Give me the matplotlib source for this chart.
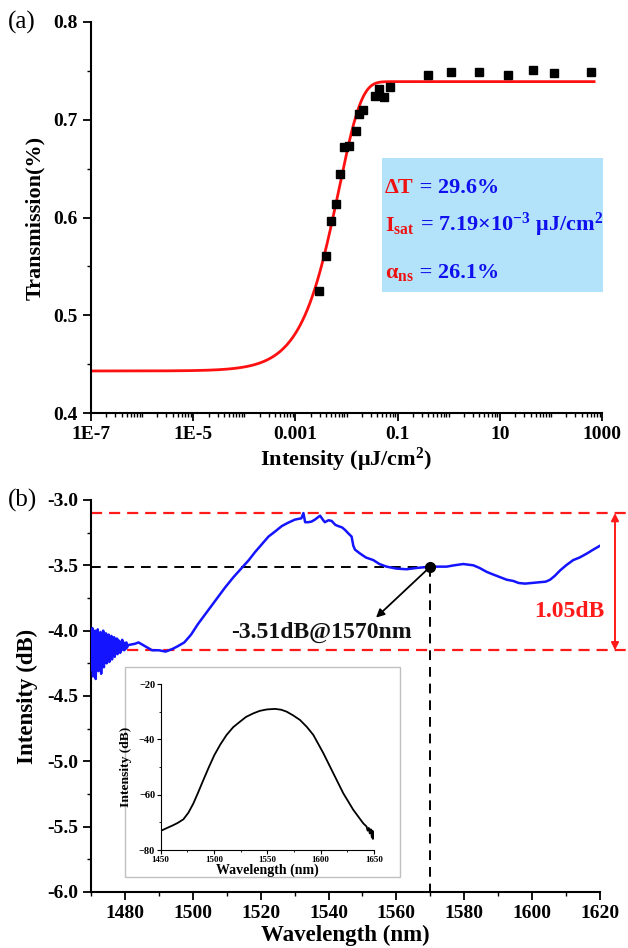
import numpy as np
import matplotlib
matplotlib.use("Agg")
import matplotlib.pyplot as plt
from matplotlib.patches import Rectangle
from matplotlib.ticker import MultipleLocator, FixedLocator, NullFormatter

plt.rcParams['font.family'] = ['Liberation Serif', 'DejaVu Serif']
plt.rcParams['font.weight'] = 'bold'
plt.rcParams['axes.labelweight'] = 'bold'
plt.rcParams['mathtext.fontset'] = 'custom'
plt.rcParams['mathtext.rm'] = 'Liberation Serif:bold'
plt.rcParams['mathtext.it'] = 'Liberation Serif:bold'
plt.rcParams['mathtext.bf'] = 'Liberation Serif:bold'
plt.rcParams['mathtext.default'] = 'rm'
plt.rcParams['lines.scale_dashes'] = False

# ---------------- data: panel (a) ----------------
intensity = [0.0029, 0.0040, 0.0049, 0.0062, 0.0076, 0.0091, 0.0114, 0.0154,
             0.0179, 0.0210, 0.036, 0.044, 0.053, 0.072, 0.39, 1.1, 3.9, 14.7,
             45, 113, 600]
transmission = [0.525, 0.561, 0.596, 0.614, 0.645, 0.672, 0.673, 0.689,
                0.706, 0.710, 0.724, 0.731, 0.723, 0.733, 0.746, 0.749, 0.749,
                0.746, 0.751, 0.748, 0.749]
delta_T = 0.296
I_sat = 7.19e-3
alpha_ns = 0.261
fit_I_min, fit_I_max = 1e-7, 7e2
x_ticks_a = [1e-7, 1e-5, 1e-3, 1e-1, 1e1, 1e3]
x_ticklabels_a = ['1E-7', '1E-5', '0.001', '0.1', '10', '1000']

# ---------------- data: panel (b) ----------------
noise_wl_start, noise_wl_step = 1470.0, 0.2
noise_vals = [-4.02, -4.30, -3.98, -4.35, -4.05, -4.26, -4.00, -4.37, -4.08, -4.24,
              -3.99, -4.31, -4.04, -4.27, -4.01, -4.33, -4.03, -4.22, -4.00, -4.28,
              -4.05, -4.20, -4.02, -4.25, -4.06, -4.21, -4.03, -4.24, -4.05, -4.19,
              -4.04, -4.22, -4.07, -4.18, -4.05, -4.20, -4.08, -4.17, -4.06, -4.18,
              -4.07, -4.16, -4.08, -4.17, -4.09, -4.15, -4.07, -4.14, -4.09, -4.15,
              -4.10, -4.14, -4.09, -4.13, -4.11]
spec_wl = [1481, 1483, 1484, 1486, 1488, 1490, 1492, 1494, 1495.5, 1497.5, 1499.5,
           1501.5, 1503.5, 1505.5, 1507.5, 1509.5, 1512, 1514.4, 1516.5, 1518.3,
           1520.3, 1522.3, 1524.3, 1526.2, 1528, 1530.1, 1532.0, 1532.6, 1533.1,
           1534, 1535, 1536, 1537.5, 1538.3, 1538.9, 1540, 1540.9, 1542, 1542.9,
           1544, 1544.9, 1546, 1546.8, 1547.3, 1547.8, 1549.3, 1551, 1553.2, 1555,
           1557.1, 1560, 1563, 1566, 1570, 1574.8, 1577, 1579.7, 1582.7, 1584.5,
           1586.6, 1588.5, 1590.5, 1592.5, 1594.5, 1596, 1597.9, 1600, 1602.3, 1604,
           1605.3, 1606.7, 1608.2, 1610, 1612.1, 1614, 1616.1, 1618, 1620]
spec_db = [-4.11, -4.10, -4.09, -4.12, -4.15, -4.15, -4.16, -4.14, -4.12, -4.09, -4.03,
           -3.95, -3.88, -3.81, -3.74, -3.67, -3.59, -3.52, -3.46, -3.40,
           -3.34, -3.28, -3.24, -3.20, -3.175, -3.15, -3.14, -3.10, -3.17,
           -3.17, -3.165, -3.15, -3.12, -3.15, -3.17, -3.155, -3.16, -3.19, -3.20,
           -3.21, -3.23, -3.26, -3.28, -3.35, -3.38, -3.41, -3.44, -3.46, -3.49,
           -3.51, -3.525, -3.53, -3.52, -3.51, -3.51, -3.50, -3.49, -3.50, -3.52,
           -3.55, -3.57, -3.59, -3.61, -3.62, -3.635, -3.64, -3.635, -3.63, -3.625,
           -3.61, -3.58, -3.54, -3.50, -3.46, -3.44, -3.41, -3.38, -3.35]
red_top, red_bottom = -3.10, -4.15
mark_wl, mark_db = 1570, -3.51
arrow_tip = (1554, -3.90)

# inset
inset_wl = [1450, 1455, 1461.9, 1466, 1471.3, 1476, 1480.6, 1485, 1490, 1495, 1500.3,
            1506, 1511.8, 1518, 1524.4, 1530, 1536.9, 1543, 1549.4, 1557.2, 1563,
            1568.1, 1574, 1580.6, 1587, 1593.1, 1602.5, 1611.9, 1621.2, 1630.6, 1640,
            1643, 1644, 1645, 1646, 1647, 1648, 1648.5, 1649, 1649.5, 1650]
inset_db = [-73.1, -72.2, -71.0, -70.2, -68.9, -66.5, -63.2, -59.3, -54.7, -50.2, -45.7,
            -41.8, -38.4, -35.6, -33.6, -31.9, -30.6, -29.7, -29.2, -29.0, -29.3,
            -30.0, -31.3, -33.0, -35.5, -38.4, -45.0, -52.3, -59.5, -65.5, -70.4,
            -71.5, -73.0, -72.0, -74.0, -72.5, -75.5, -73.0, -76.0, -73.5, -75.0]

W, H = 628, 948
fig = plt.figure(figsize=(W / 100, H / 100), dpi=100)


def fx(px):
    return px / W


def fy(py):
    return 1 - py / H


def style_axes(ax, lw=1.5):
    for s in ['top', 'right']:
        ax.spines[s].set_visible(False)
    for s in ['left', 'bottom']:
        ax.spines[s].set_linewidth(lw)


# ================= Panel (a) =================
axa = fig.add_axes([fx(91), fy(413), fx(602 - 91), (413 - 22) / H])
style_axes(axa)
axa.set_xscale('log')
axa.set_xlim(1e-7, 1e3)
axa.set_ylim(0.4, 0.8)
I_fit = np.logspace(np.log10(fit_I_min), np.log10(fit_I_max), 600)
T_fit = 1 - alpha_ns - delta_T * np.exp(-I_fit / I_sat)
axa.plot(I_fit, T_fit, color='#ff1010', lw=2.0, zorder=2)
axa.plot(intensity, transmission, 's', color='black', ms=6, zorder=3)
axa.set_xticks(x_ticks_a)
axa.set_xticklabels(x_ticklabels_a)
minor_a = [m * 10.0 ** e for e in range(-7, 3) for m in range(1, 10)]
minor_a = [v for v in minor_a if v not in x_ticks_a]
axa.xaxis.set_minor_locator(FixedLocator(minor_a))
axa.xaxis.set_minor_formatter(NullFormatter())
axa.yaxis.set_minor_locator(MultipleLocator(0.05))
axa.set_yticks([0.4, 0.5, 0.6, 0.7, 0.8])
axa.set_yticklabels(['0.4', '0.5', '0.6', '0.7', '0.8'])
axa.tick_params(axis='both', which='major', direction='out', length=6, width=1.3,
                labelsize=14)
axa.tick_params(axis='both', which='minor', direction='out', length=3, width=1.0)
axa.set_xlabel('Intensity (μJ/cm$^{2}$)', fontsize=16, labelpad=2)
axa.set_ylabel('Transmission(%)', fontsize=16, labelpad=6)

# info box
fig.add_artist(Rectangle((fx(382), fy(292)), fx(603 - 382), (292 - 158) / H,
                         transform=fig.transFigure, facecolor='#b3e3fa',
                         edgecolor='none', zorder=5))
fig.canvas.draw()
renderer = fig.canvas.get_renderer()
lines_info = [
    (193, [('ΔT', '#ee1111'), (' = 29.6%', '#1010ee')]),
    (231, [('I$_{sat}$', '#ee1111'), (' = 7.19×10$^{-3}$ μJ/cm$^{2}$', '#1010ee')]),
    (278, [('α$_{ns}$', '#ee1111'), (' = 26.1%', '#1010ee')]),
]
for base_y, parts in lines_info:
    xpos = fx(385)
    for txt, col in parts:
        t = fig.text(xpos, fy(base_y), txt, color=col, fontsize=16,
                     fontweight='bold', va='baseline', ha='left', zorder=6)
        bb = t.get_window_extent(renderer)
        xpos = fig.transFigure.inverted().transform((bb.x1, bb.y0))[0]

fig.text(fx(8), fy(22), '(a)', fontsize=18, fontweight='normal', va='center', ha='left')

# ================= Panel (b) =================
axb = fig.add_axes([fx(91), fy(892), fx(600 - 91), (892 - 500) / H])
style_axes(axb)
axb.set_xlim(1470, 1620)
axb.set_ylim(-6.0, -3.0)
noise_wl = [noise_wl_start + i * noise_wl_step for i in range(len(noise_vals))]
axb.plot(noise_wl + spec_wl, noise_vals + spec_db, color='#1414ff', lw=1.8, zorder=3)

x_end = 1470 + (W - 91) * 150 / 509
axb.plot([1470, x_end], [red_top, red_top], color='#ff1a1a', lw=1.6,
         dashes=(8, 5), clip_on=False, zorder=2)
axb.plot([1470, x_end], [red_bottom, red_bottom], color='#ff1a1a', lw=1.6,
         dashes=(8, 5), clip_on=False, zorder=2)
axb.plot([1470, mark_wl], [mark_db, mark_db], color='black', lw=1.4,
         dashes=(7, 5), zorder=2)
axb.plot([mark_wl, mark_wl], [mark_db, -6.0], color='black', lw=1.4,
         dashes=(7, 5), zorder=2)
axb.plot([mark_wl], [mark_db], 'o', color='black', ms=7, zorder=4)
axb.annotate('', xy=arrow_tip, xytext=(mark_wl, mark_db),
             arrowprops=dict(arrowstyle='-|>', color='black', lw=1.3,
                             mutation_scale=12, shrinkA=0, shrinkB=0))
axb.text(1538, -4.01, '-3.51dB@1570nm', fontsize=17, fontweight='bold',
         ha='center', va='center', color='#111111')
arrow_x = 1470 + (615 - 91) * 150 / 509
axb.annotate('', xy=(arrow_x, red_top), xytext=(arrow_x, red_bottom),
             arrowprops=dict(arrowstyle='<|-|>', color='#ff1a1a', lw=1.4,
                             mutation_scale=11, shrinkA=0, shrinkB=0),
             annotation_clip=False)
axb.text(1610.9, -3.855, '1.05dB', fontsize=17, fontweight='bold', color='#ff1a1a',
         ha='center', va='center')

axb.xaxis.set_minor_locator(MultipleLocator(10))
axb.yaxis.set_minor_locator(MultipleLocator(0.25))
axb.set_xticks([1480, 1500, 1520, 1540, 1560, 1580, 1600, 1620])
axb.set_yticks([-6.0, -5.5, -5.0, -4.5, -4.0, -3.5, -3.0])
axb.set_yticklabels(['-6.0', '-5.5', '-5.0', '-4.5', '-4.0', '-3.5', '-3.0'])
axb.tick_params(axis='both', which='major', direction='out', length=6, width=1.3,
                labelsize=14)
axb.tick_params(axis='both', which='minor', direction='out', length=3, width=1.0)
axb.set_xlabel('Wavelength (nm)', fontsize=16.5, labelpad=2)
axb.set_ylabel('Intensity (dB)', fontsize=16.5, labelpad=6)

fig.text(fx(8), fy(500), '(b)', fontsize=18, fontweight='normal', va='center', ha='left')

# inset frame
fig.add_artist(Rectangle((fx(125), fy(877)), fx(400 - 125), (877 - 667) / H,
                         transform=fig.transFigure, facecolor='white',
                         edgecolor='#c0c0c0', lw=1.0, zorder=5))
axi = fig.add_axes([fx(160.7), fy(850), fx(374 - 160.7), (850 - 684) / H], zorder=6)
axi.patch.set_alpha(0)
style_axes(axi, lw=0.8)
axi.plot(inset_wl, inset_db, color='black', lw=1.3)
axi.set_xlim(1450, 1650)
axi.set_ylim(-80, -20)
axi.set_xticks([1450, 1500, 1550, 1600, 1650])
axi.xaxis.set_minor_locator(MultipleLocator(25))
axi.set_yticks([-80, -60, -40, -20])
axi.yaxis.set_minor_locator(MultipleLocator(10))
axi.tick_params(axis='x', which='major', direction='out', length=3, width=0.8,
                labelsize=6.5, pad=1)
axi.tick_params(axis='y', which='major', direction='out', length=3, width=0.8,
                labelsize=7.5, pad=1)
axi.tick_params(axis='both', which='minor', direction='out', length=1.5, width=0.6)
axi.set_xlabel('Wavelength (nm)', fontsize=10, labelpad=0)
axi.set_ylabel('Intensity (dB)', fontsize=9.7, labelpad=5)

fig.savefig('out.png', dpi=100)
